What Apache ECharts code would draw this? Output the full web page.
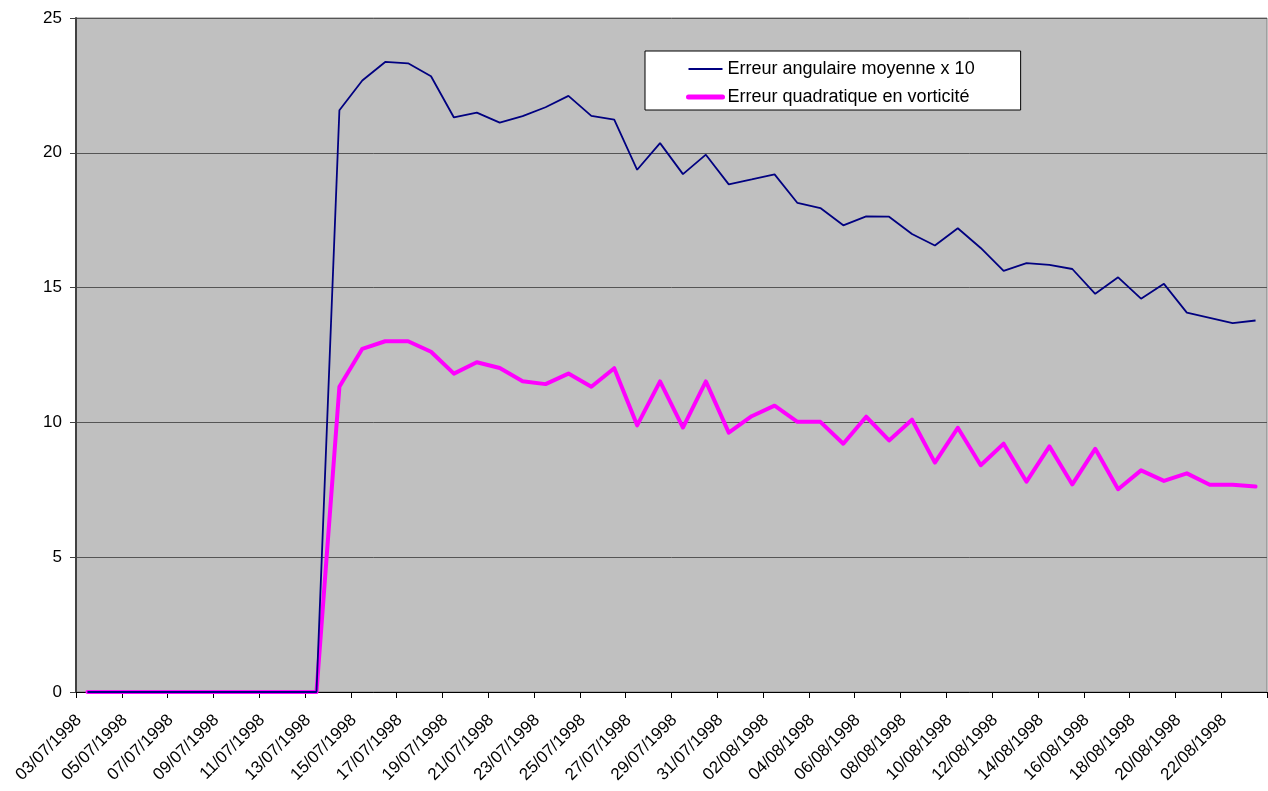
<!DOCTYPE html>
<html>
<head>
<meta charset="utf-8">
<style>
  html, body { margin: 0; padding: 0; background: #ffffff; }
  #chart { width: 1268px; height: 791px; }
</style>
<script src="https://cdn.jsdelivr.net/npm/echarts@6/dist/echarts.min.js"></script>
</head>
<body>
<div id="chart"></div>
<script>
// Daily dates, 3 July to 23 August 1998
const dates = [
  '03/07/1998','04/07/1998','05/07/1998','06/07/1998','07/07/1998','08/07/1998','09/07/1998',
  '10/07/1998','11/07/1998','12/07/1998','13/07/1998','14/07/1998','15/07/1998','16/07/1998',
  '17/07/1998','18/07/1998','19/07/1998','20/07/1998','21/07/1998','22/07/1998','23/07/1998',
  '24/07/1998','25/07/1998','26/07/1998','27/07/1998','28/07/1998','29/07/1998','30/07/1998',
  '31/07/1998','01/08/1998','02/08/1998','03/08/1998','04/08/1998','05/08/1998','06/08/1998',
  '07/08/1998','08/08/1998','09/08/1998','10/08/1998','11/08/1998','12/08/1998','13/08/1998',
  '14/08/1998','15/08/1998','16/08/1998','17/08/1998','18/08/1998','19/08/1998','20/08/1998',
  '21/08/1998','22/08/1998','23/08/1998'
];

// Mean angular error, multiplied by 10
const angularError = [
  0, 0, 0, 0, 0, 0, 0, 0, 0, 0, 0,
  21.58, 22.68, 23.37, 23.32, 22.84, 21.31, 21.49, 21.12, 21.36, 21.69,
  22.11, 21.37, 21.23, 19.37, 20.36, 19.21, 19.93, 18.83, 19.01, 19.20,
  18.14, 17.95, 17.31, 17.64, 17.63, 16.99, 16.56, 17.20, 16.47, 15.62,
  15.91, 15.84, 15.69, 14.77, 15.38, 14.59, 15.14, 14.07, 13.88, 13.68, 13.78
];

// Quadratic error in vorticity
const vorticityError = [
  0, 0, 0, 0, 0, 0, 0, 0, 0, 0, 0,
  11.32, 12.73, 13.01, 13.01, 12.62, 11.81, 12.23, 12.02, 11.53, 11.42,
  11.81, 11.32, 12.01, 9.89, 11.52, 9.81, 11.52, 9.62, 10.23, 10.62,
  10.02, 10.02, 9.21, 10.21, 9.33, 10.10, 8.51, 9.80, 8.41, 9.21,
  7.80, 9.11, 7.70, 9.02, 7.52, 8.22, 7.83, 8.11, 7.69, 7.69, 7.62
];

const seriesNames = ['Erreur angulaire moyenne x 10', 'Erreur quadratique en vorticité'];
const yTicks = { min: 0, max: 25, interval: 5 };

const chart = echarts.init(document.getElementById('chart'), null, { renderer: 'canvas' });

const font = 'Liberation Sans, Arial, sans-serif';

chart.setOption({
  animation: false,
  backgroundColor: '#ffffff',
  grid: {
    left: 76, top: 18, right: 1, bottom: 99,
    show: true,
    backgroundColor: '#c0c0c0',
    borderColor: '#808080',
    borderWidth: 1
  },
  legend: {
    show: true,
    left: 645, top: 51,
    orient: 'vertical',
    backgroundColor: '#ffffff',
    borderColor: '#000000',
    borderWidth: 1,
    padding: [9, 46, 4, 41],
    itemGap: 10,
    itemWidth: 34,
    itemHeight: 18,
    selectedMode: false,
    // only the line segment is drawn as the key, not a marker
    itemStyle: { opacity: 0 },
    textStyle: { fontFamily: font, fontSize: 18, color: '#000000' },
    data: [
      { name: seriesNames[0], lineStyle: { width: 2 } },
      { name: seriesNames[1], lineStyle: { width: 5, cap: 'round' } }
    ]
  },
  xAxis: {
    type: 'category',
    data: dates,
    boundaryGap: true,
    axisLine: { lineStyle: { color: '#000000', width: 1 } },
    axisTick: { show: true, interval: 1, length: 6, lineStyle: { color: '#000000' } },
    axisLabel: {
      interval: 1,
      rotate: 45,
      fontFamily: font,
      fontSize: 17,
      color: '#000000',
      margin: 17,
      padding: [0, 12, 0, 0]
    },
    splitLine: { show: false }
  },
  yAxis: {
    type: 'value',
    min: yTicks.min, max: yTicks.max, interval: yTicks.interval,
    axisLine: { show: true, lineStyle: { color: '#404040', width: 2 } },
    axisTick: { show: true, length: 6, lineStyle: { color: '#404040' } },
    axisLabel: { fontFamily: font, fontSize: 17, color: '#000000', margin: 14 },
    splitLine: { show: true, lineStyle: { color: '#555555', width: 1 } }
  },
  series: [
    {
      name: seriesNames[0],
      type: 'line',
      data: angularError,
      showSymbol: false,
      symbol: 'none',
      lineStyle: { color: '#000080', width: 1.8 },
      itemStyle: { color: '#000080' },
      z: 3
    },
    {
      name: seriesNames[1],
      type: 'line',
      data: vorticityError,
      showSymbol: false,
      symbol: 'none',
      lineStyle: { color: '#ff00ff', width: 4, cap: 'round', join: 'round' },
      itemStyle: { color: '#ff00ff' },
      z: 2
    }
  ]
});
</script>
</body>
</html>
